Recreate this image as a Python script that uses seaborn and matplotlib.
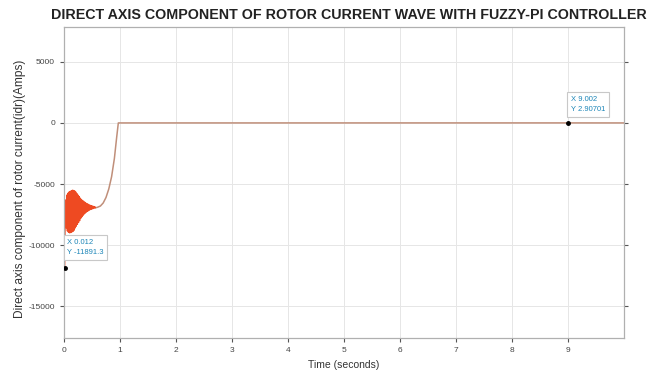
import matplotlib
matplotlib.use("Agg")
import matplotlib.pyplot as plt
import seaborn as sns
import pandas as pd

# transient part: dense oscillation right after start-up (seconds, Amps)
osc_time = [0.012, 0.02, 0.03, 0.04, 0.05, 0.06, 0.07, 0.08, 0.09, 0.10,
            0.11, 0.12, 0.13, 0.14, 0.15, 0.16, 0.17, 0.18, 0.19, 0.20,
            0.21, 0.22, 0.23, 0.24, 0.25, 0.26, 0.27, 0.28, 0.29, 0.30,
            0.31, 0.32, 0.33, 0.34, 0.35, 0.36, 0.37, 0.38, 0.39, 0.40,
            0.41, 0.42, 0.43, 0.44, 0.45, 0.46, 0.47, 0.48, 0.49, 0.50,
            0.51, 0.52, 0.53, 0.54, 0.55, 0.56]
osc_idr = [-11891.3, -8300, -6300, -8600, -5900, -8850, -5750, -8950, -5650, -9000,
           -5600, -8980, -5550, -8930, -5500, -8880, -5520, -8780, -5560, -8600,
           -5650, -8450, -5780, -8300, -5900, -8150, -6020, -8000, -6150, -7800,
           -6250, -7680, -6330, -7560, -6400, -7460, -6480, -7380, -6550, -7300,
           -6600, -7240, -6650, -7180, -6700, -7120, -6740, -7080, -6770, -7050,
           -6800, -7010, -6830, -6980, -6850, -6950]

# recovery and steady state
rec_time = [0.56, 0.60, 0.65, 0.70, 0.75, 0.80, 0.85, 0.90, 0.94, 0.97, 9.002, 10.0]
rec_idr = [-6950, -6900, -6800, -6550, -6100, -5400, -4400, -2900, -1200, 0, 2.90701, 0]

# data tips
tip_x = [0.012, 9.002]
tip_y = [-11891.3, 2.90701]
tip_text = ["X 0.012\nY -11891.3", "X 9.002\nY 2.90701"]

osc_df = pd.DataFrame({"t": osc_time, "idr": osc_idr})
rec_df = pd.DataFrame({"t": rec_time, "idr": rec_idr})

sns.set_style("whitegrid")
plt.rcParams['font.family'] = ['Liberation Sans', 'DejaVu Sans']
plt.rcParams['axes.unicode_minus'] = False

fig = plt.figure(figsize=(6.61, 3.79), dpi=100)
ax = fig.add_axes([64 / 661, 1 - 338 / 379, 560 / 661, 311 / 379])

sns.lineplot(data=rec_df, x="t", y="idr", ax=ax, color="#c08f7a", lw=1.1, sort=False)
sns.lineplot(data=osc_df, x="t", y="idr", ax=ax, color="#ee4a22", lw=0.9, sort=False)
ax.plot(tip_x, tip_y, "o", color="black", ms=2.5, zorder=5)

# data tip boxes
ax.text(0.06, -10200, tip_text[0], fontsize=5.5, color="#1d86b8", va="center", ha="left",
        linespacing=1.7, bbox=dict(boxstyle="square,pad=0.45", fc="white", ec="#c8c8c8", lw=0.8))
ax.text(9.05, 1500, tip_text[1], fontsize=5.5, color="#1d86b8", va="center", ha="left",
        linespacing=1.7, bbox=dict(boxstyle="square,pad=0.45", fc="white", ec="#c8c8c8", lw=0.8))

ax.set_xlim(0, 10)
ax.set_ylim(-17600, 7850)
ax.set_xticks(range(0, 10))
ax.set_yticks([5000, 0, -5000, -10000, -15000])
ax.grid(True, color="#e6e6e6", lw=0.7)
for s in ax.spines.values():
    s.set_visible(True)
    s.set_color("#b0b0b0")
    s.set_linewidth(0.9)
ax.tick_params(axis="both", labelsize=6, colors="#555555", length=3, direction="out",
               left=True, bottom=True, right=True)
ax.tick_params(axis="both", labelcolor="#444444")

ax.set_xlabel("Time (seconds)", fontsize=7.5, color="#333333", labelpad=4)
ax.set_ylabel("Direct axis component of rotor current(idr)(Amps)", fontsize=8.6, color="#333333")
ax.yaxis.set_label_coords(-0.068, 0.48)
fig.text(349 / 661, 1 - 15 / 379, "DIRECT AXIS COMPONENT OF ROTOR CURRENT WAVE WITH FUZZY-PI CONTROLLER",
         ha="center", va="center", fontsize=10.3, fontweight="bold", color="#222222",
         family=["Liberation Sans", "DejaVu Sans"])

fig.savefig("out.png", dpi=100)
